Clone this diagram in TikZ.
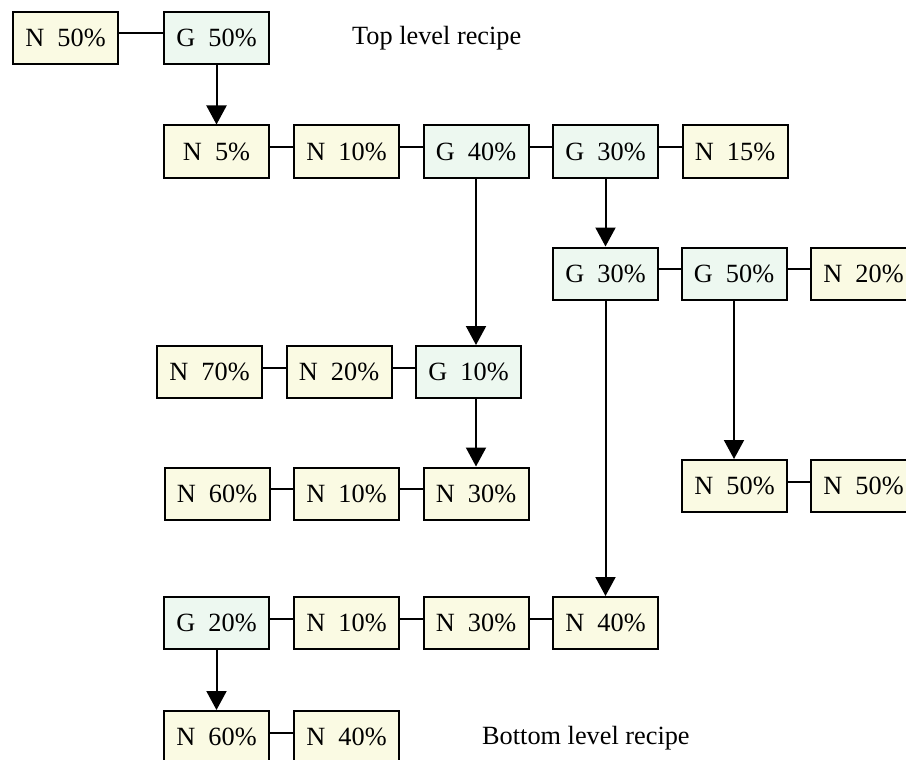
\documentclass[tikz,border=0pt]{standalone}
\usepackage{fontspec}
\setmainfont{Liberation Serif}
\usetikzlibrary{arrows.meta}
\definecolor{nfill}{HTML}{FAFAE3}
\definecolor{gfill}{HTML}{EDF8F0}
\newcommand\hlink[2]{\draw[link] ([yshift=4.5pt]#1.east) -- ([yshift=4.5pt]#2.west);}
\newcommand\pct[2]{#1\hspace{0.5em}#2\%}
\begin{document}
\begin{tikzpicture}[x=1pt,y=-1pt,
  box/.style={draw=black,line width=2pt,minimum width=105pt,minimum height=52pt,
    inner sep=0pt,font=\fontsize{26.3}{30}\selectfont},
  nbox/.style={box,fill=nfill},
  gbox/.style={box,fill=gfill},
  link/.style={line width=2pt},
  arr/.style={line width=2pt,-{Triangle[width=20pt,length=19pt]}},
  lbl/.style={font=\fontsize{26.3}{30}\selectfont,inner sep=0pt,anchor=base west}]
\useasboundingbox (0,0) rectangle (906,760);
\clip (0,0) rectangle (906,760);
% row 0
\node[nbox] (n1) at (65.5,38) {\pct{N}{50}};
\node[gbox] (g1) at (216.5,38) {\pct{G}{50}};
% row 1
\node[nbox] (n2) at (216.5,151.5) {\pct{N}{5}};
\node[nbox] (n3) at (346.5,151.5) {\pct{N}{10}};
\node[gbox] (g2) at (476,151.5) {\pct{G}{40}};
\node[gbox] (g3) at (605.5,151.5) {\pct{G}{30}};
\node[nbox] (n4) at (735,151.5) {\pct{N}{15}};
% row 2
\node[gbox] (g4) at (605.5,273.5) {\pct{G}{30}};
\node[gbox] (g5) at (734,273.5) {\pct{G}{50}};
\node[nbox] (n5) at (863.5,273.5) {\pct{N}{20}};
% row 3
\node[nbox] (n6) at (209.5,372) {\pct{N}{70}};
\node[nbox] (n7) at (339,372) {\pct{N}{20}};
\node[gbox] (g6) at (468.5,372) {\pct{G}{10}};
% row 4
\node[nbox] (n8) at (217,493.5) {\pct{N}{60}};
\node[nbox] (n9) at (346.5,493.5) {\pct{N}{10}};
\node[nbox] (n10) at (476,493.5) {\pct{N}{30}};
\node[nbox] (n11) at (734.5,486) {\pct{N}{50}};
\node[nbox] (n12) at (863.5,486) {\pct{N}{50}};
% row 5
\node[gbox] (g7) at (216.5,623) {\pct{G}{20}};
\node[nbox] (n13) at (346.5,623) {\pct{N}{10}};
\node[nbox] (n14) at (476,623) {\pct{N}{30}};
\node[nbox] (n15) at (605.5,623) {\pct{N}{40}};
% row 6
\node[nbox] (n16) at (216.5,737) {\pct{N}{60}};
\node[nbox] (n17) at (346.5,737) {\pct{N}{40}};
% labels
\node[lbl] (toplbl) at (352,45) {Top level recipe};
\node[lbl] (botlbl) at (482,744) {Bottom level recipe};
% horizontal links
\hlink{n1}{g1}
\hlink{n2}{n3}\hlink{n3}{g2}\hlink{g2}{g3}\hlink{g3}{n4}
\hlink{g4}{g5}\hlink{g5}{n5}
\hlink{n6}{n7}\hlink{n7}{g6}
\hlink{n8}{n9}\hlink{n9}{n10}
\hlink{n11}{n12}
\hlink{g7}{n13}\hlink{n13}{n14}\hlink{n14}{n15}
\hlink{n16}{n17}
% arrows
\draw[arr] (g1.south) -- (n2.north);
\draw[arr] (g2.south) -- (g2.south |- g6.north);
\draw[arr] (g3.south) -- (g4.north);
\draw[arr] (n10.north |- g6.south) -- (n10.north);
\draw[arr] (g4.south) -- (n15.north);
\draw[arr] (g5.south) -- (g5.south |- n11.north);
\draw[arr] (g7.south) -- (n16.north);
\end{tikzpicture}
\end{document}
